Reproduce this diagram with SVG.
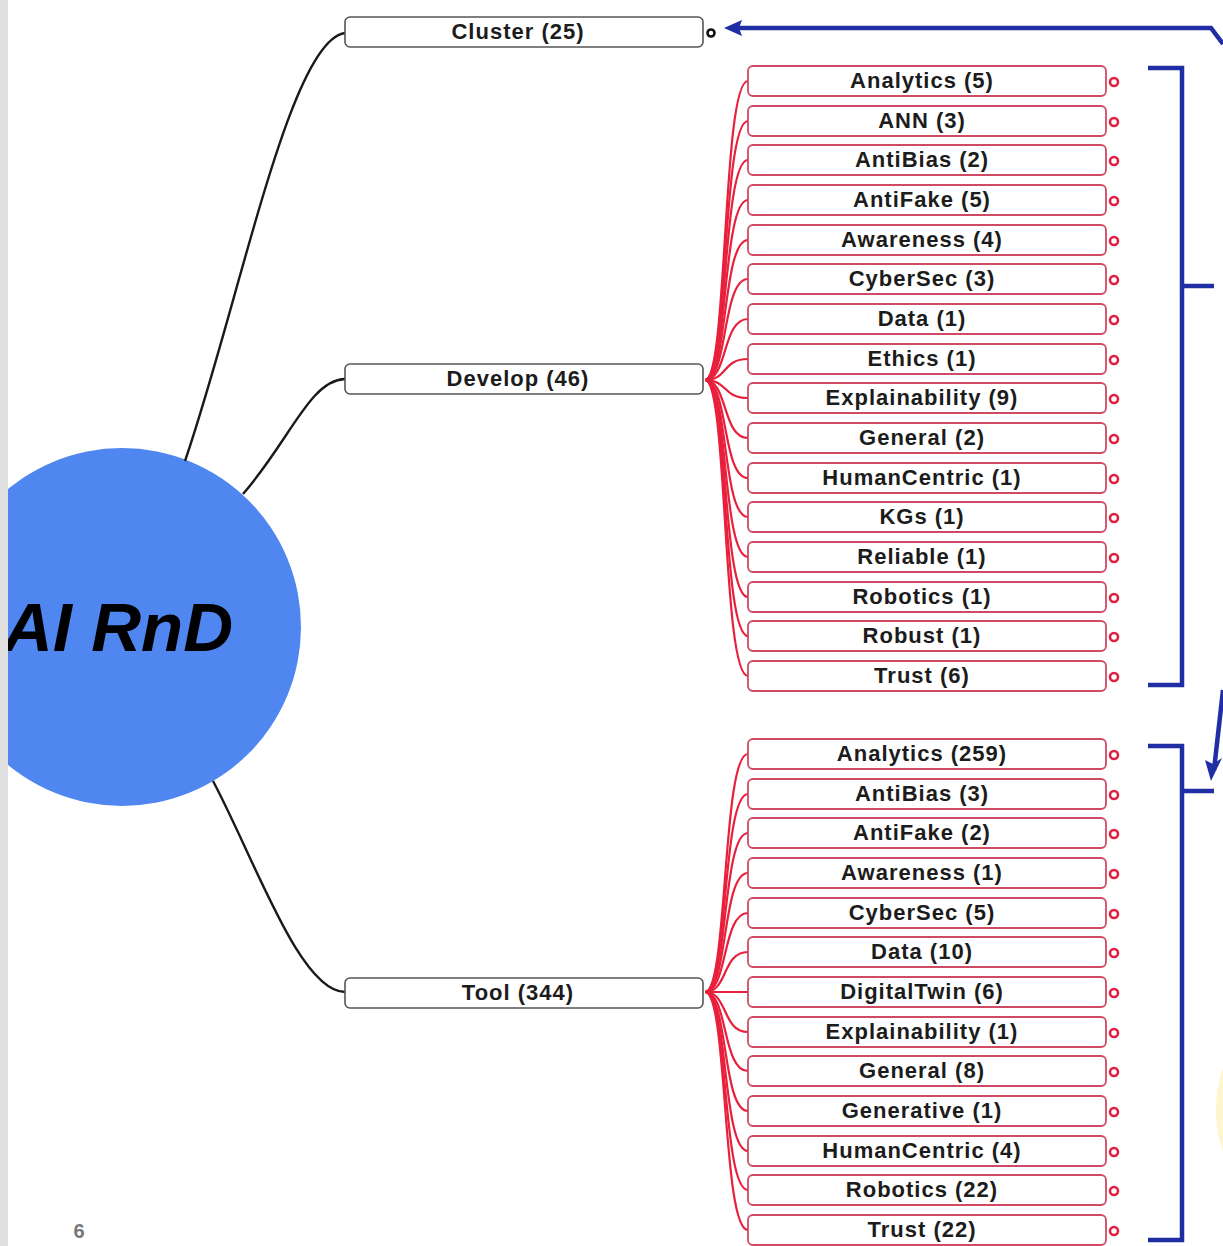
<svg xmlns="http://www.w3.org/2000/svg" width="1223" height="1246" viewBox="0 0 1223 1246">
  <defs>
    <style>
      .lbl { font-family: "Liberation Sans", Arial, sans-serif; font-weight: bold; font-size: 22px; fill: #1c1c1c; text-anchor: middle; letter-spacing: 1px; }
      .b1 { fill: #fff; stroke: #555; stroke-width: 1.6; }
      .b2 { fill: #fff; stroke: #d04a64; stroke-width: 1.8; }
      .dot2 { fill: #fff; stroke: #e02040; stroke-width: 2.6; }
      .dot1 { fill: #fff; stroke: #111; stroke-width: 2.6; }
      .blk { fill: none; stroke: #1a1a1a; stroke-width: 2.4; }
      .red { fill: none; stroke: #e8203c; stroke-width: 2.2; }
      .blue { fill: none; stroke: #1f2fa3; stroke-width: 4.5; stroke-linejoin: miter; }
    </style>
  </defs>
  <rect width="1223" height="1246" fill="#fff"/>
  <ellipse cx="1262" cy="1110" rx="46" ry="78" fill="#fdf6cf"/>

  <!-- root -->
  <g id="root">
    <circle cx="122" cy="627" r="179" fill="#4f86f0"/>
    <text x="3" y="651" font-family="Liberation Sans, Arial, sans-serif" font-weight="bold" font-style="italic" font-size="69" fill="#000">AI RnD</text>
  </g>
  <rect x="0" y="0" width="8" height="1246" fill="#e0e0e0"/>

  <!-- connectors -->
  <g id="connectors">
    <path class="blk" d="M185,461 C240,300 290,40 345,33"/>
    <path class="blk" d="M243,494 C290,440 310,380 345,379"/>
    <path class="blk" d="M213,781 C255,860 300,992 345,992"/>
    <g id="develop-links">
      <path class="red" d="M705,380 C728,380 722,81 748,81"/>
      <path class="red" d="M705,380 C728,380 722,121 748,121"/>
      <path class="red" d="M705,380 C728,380 722,160 748,160"/>
      <path class="red" d="M705,380 C728,380 722,200 748,200"/>
      <path class="red" d="M705,380 C728,380 722,240 748,240"/>
      <path class="red" d="M705,380 C728,380 722,279 748,279"/>
      <path class="red" d="M705,380 C728,380 722,319 748,319"/>
      <path class="red" d="M705,380 C728,380 722,359 748,359"/>
      <path class="red" d="M705,380 C728,380 722,398 748,398"/>
      <path class="red" d="M705,380 C728,380 722,438 748,438"/>
      <path class="red" d="M705,380 C728,380 722,478 748,478"/>
      <path class="red" d="M705,380 C728,380 722,517 748,517"/>
      <path class="red" d="M705,380 C728,380 722,557 748,557"/>
      <path class="red" d="M705,380 C728,380 722,597 748,597"/>
      <path class="red" d="M705,380 C728,380 722,636 748,636"/>
      <path class="red" d="M705,380 C728,380 722,676 748,676"/>
    </g>
    <g id="tool-links">
      <path class="red" d="M705,992 C728,992 722,754 748,754"/>
      <path class="red" d="M705,992 C728,992 722,794 748,794"/>
      <path class="red" d="M705,992 C728,992 722,833 748,833"/>
      <path class="red" d="M705,992 C728,992 722,873 748,873"/>
      <path class="red" d="M705,992 C728,992 722,913 748,913"/>
      <path class="red" d="M705,992 C728,992 722,952 748,952"/>
      <path class="red" d="M705,992 C728,992 722,992 748,992"/>
      <path class="red" d="M705,992 C728,992 722,1032 748,1032"/>
      <path class="red" d="M705,992 C728,992 722,1071 748,1071"/>
      <path class="red" d="M705,992 C728,992 722,1111 748,1111"/>
      <path class="red" d="M705,992 C728,992 722,1151 748,1151"/>
      <path class="red" d="M705,992 C728,992 722,1190 748,1190"/>
      <path class="red" d="M705,992 C728,992 722,1230 748,1230"/>
    </g>
    <!-- blue annotation arrows and brackets -->
    <g id="annotations">
      <path class="blue" d="M738,28 L1211,28 L1223,44"/>
      <polygon points="724,28 742,20 739,28 742,36" fill="#1f2fa3"/>
      <path class="blue" d="M1148,68 L1182,68 L1182,685 L1148,685"/>
      <path class="blue" d="M1182,286 L1214,286"/>
      <path class="blue" d="M1148,746 L1182,746 L1182,1240 L1148,1240"/>
      <path class="blue" d="M1182,791 L1214,791"/>
      <path class="blue" d="M1223,690 L1214,770"/>
      <polygon points="1211,781 1205,760 1213,764 1222,758" fill="#1f2fa3"/>
    </g>
  </g>

  <!-- level one -->
  <g id="cluster">
    <rect class="b1" x="345" y="17" width="358" height="30" rx="5"/>
    <text class="lbl" x="518" y="39">Cluster (25)</text>
    <circle class="dot1" cx="711" cy="33" r="3.5"/>
  </g>
  <g id="develop">
    <rect class="b1" x="345" y="364" width="358" height="30" rx="5"/>
    <text class="lbl" x="518" y="386">Develop (46)</text>
  </g>
  <g id="tool">
    <rect class="b1" x="345" y="978" width="358" height="30" rx="5"/>
    <text class="lbl" x="518" y="1000">Tool (344)</text>
  </g>

  <!-- develop children -->
  <g id="d-analytics"><rect class="b2" x="748" y="66" width="358" height="30" rx="5"/><text class="lbl" x="922" y="88">Analytics (5)</text><circle class="dot2" cx="1114" cy="82" r="4"/></g>
  <g id="d-ann"><rect class="b2" x="748" y="106" width="358" height="30" rx="5"/><text class="lbl" x="922" y="128">ANN (3)</text><circle class="dot2" cx="1114" cy="122" r="4"/></g>
  <g id="d-antibias"><rect class="b2" x="748" y="145" width="358" height="30" rx="5"/><text class="lbl" x="922" y="167">AntiBias (2)</text><circle class="dot2" cx="1114" cy="161" r="4"/></g>
  <g id="d-antifake"><rect class="b2" x="748" y="185" width="358" height="30" rx="5"/><text class="lbl" x="922" y="207">AntiFake (5)</text><circle class="dot2" cx="1114" cy="201" r="4"/></g>
  <g id="d-awareness"><rect class="b2" x="748" y="225" width="358" height="30" rx="5"/><text class="lbl" x="922" y="247">Awareness (4)</text><circle class="dot2" cx="1114" cy="241" r="4"/></g>
  <g id="d-cybersec"><rect class="b2" x="748" y="264" width="358" height="30" rx="5"/><text class="lbl" x="922" y="286">CyberSec (3)</text><circle class="dot2" cx="1114" cy="280" r="4"/></g>
  <g id="d-data"><rect class="b2" x="748" y="304" width="358" height="30" rx="5"/><text class="lbl" x="922" y="326">Data (1)</text><circle class="dot2" cx="1114" cy="320" r="4"/></g>
  <g id="d-ethics"><rect class="b2" x="748" y="344" width="358" height="30" rx="5"/><text class="lbl" x="922" y="366">Ethics (1)</text><circle class="dot2" cx="1114" cy="360" r="4"/></g>
  <g id="d-explainability"><rect class="b2" x="748" y="383" width="358" height="30" rx="5"/><text class="lbl" x="922" y="405">Explainability (9)</text><circle class="dot2" cx="1114" cy="399" r="4"/></g>
  <g id="d-general"><rect class="b2" x="748" y="423" width="358" height="30" rx="5"/><text class="lbl" x="922" y="445">General (2)</text><circle class="dot2" cx="1114" cy="439" r="4"/></g>
  <g id="d-humancentric"><rect class="b2" x="748" y="463" width="358" height="30" rx="5"/><text class="lbl" x="922" y="485">HumanCentric (1)</text><circle class="dot2" cx="1114" cy="479" r="4"/></g>
  <g id="d-kgs"><rect class="b2" x="748" y="502" width="358" height="30" rx="5"/><text class="lbl" x="922" y="524">KGs (1)</text><circle class="dot2" cx="1114" cy="518" r="4"/></g>
  <g id="d-reliable"><rect class="b2" x="748" y="542" width="358" height="30" rx="5"/><text class="lbl" x="922" y="564">Reliable (1)</text><circle class="dot2" cx="1114" cy="558" r="4"/></g>
  <g id="d-robotics"><rect class="b2" x="748" y="582" width="358" height="30" rx="5"/><text class="lbl" x="922" y="604">Robotics (1)</text><circle class="dot2" cx="1114" cy="598" r="4"/></g>
  <g id="d-robust"><rect class="b2" x="748" y="621" width="358" height="30" rx="5"/><text class="lbl" x="922" y="643">Robust (1)</text><circle class="dot2" cx="1114" cy="637" r="4"/></g>
  <g id="d-trust"><rect class="b2" x="748" y="661" width="358" height="30" rx="5"/><text class="lbl" x="922" y="683">Trust (6)</text><circle class="dot2" cx="1114" cy="677" r="4"/></g>

  <!-- tool children -->
  <g id="t-analytics"><rect class="b2" x="748" y="739" width="358" height="30" rx="5"/><text class="lbl" x="922" y="761">Analytics (259)</text><circle class="dot2" cx="1114" cy="755" r="4"/></g>
  <g id="t-antibias"><rect class="b2" x="748" y="779" width="358" height="30" rx="5"/><text class="lbl" x="922" y="801">AntiBias (3)</text><circle class="dot2" cx="1114" cy="795" r="4"/></g>
  <g id="t-antifake"><rect class="b2" x="748" y="818" width="358" height="30" rx="5"/><text class="lbl" x="922" y="840">AntiFake (2)</text><circle class="dot2" cx="1114" cy="834" r="4"/></g>
  <g id="t-awareness"><rect class="b2" x="748" y="858" width="358" height="30" rx="5"/><text class="lbl" x="922" y="880">Awareness (1)</text><circle class="dot2" cx="1114" cy="874" r="4"/></g>
  <g id="t-cybersec"><rect class="b2" x="748" y="898" width="358" height="30" rx="5"/><text class="lbl" x="922" y="920">CyberSec (5)</text><circle class="dot2" cx="1114" cy="914" r="4"/></g>
  <g id="t-data"><rect class="b2" x="748" y="937" width="358" height="30" rx="5"/><text class="lbl" x="922" y="959">Data (10)</text><circle class="dot2" cx="1114" cy="953" r="4"/></g>
  <g id="t-digitaltwin"><rect class="b2" x="748" y="977" width="358" height="30" rx="5"/><text class="lbl" x="922" y="999">DigitalTwin (6)</text><circle class="dot2" cx="1114" cy="993" r="4"/></g>
  <g id="t-explainability"><rect class="b2" x="748" y="1017" width="358" height="30" rx="5"/><text class="lbl" x="922" y="1039">Explainability (1)</text><circle class="dot2" cx="1114" cy="1033" r="4"/></g>
  <g id="t-general"><rect class="b2" x="748" y="1056" width="358" height="30" rx="5"/><text class="lbl" x="922" y="1078">General (8)</text><circle class="dot2" cx="1114" cy="1072" r="4"/></g>
  <g id="t-generative"><rect class="b2" x="748" y="1096" width="358" height="30" rx="5"/><text class="lbl" x="922" y="1118">Generative (1)</text><circle class="dot2" cx="1114" cy="1112" r="4"/></g>
  <g id="t-humancentric"><rect class="b2" x="748" y="1136" width="358" height="30" rx="5"/><text class="lbl" x="922" y="1158">HumanCentric (4)</text><circle class="dot2" cx="1114" cy="1152" r="4"/></g>
  <g id="t-robotics"><rect class="b2" x="748" y="1175" width="358" height="30" rx="5"/><text class="lbl" x="922" y="1197">Robotics (22)</text><circle class="dot2" cx="1114" cy="1191" r="4"/></g>
  <g id="t-trust"><rect class="b2" x="748" y="1215" width="358" height="30" rx="5"/><text class="lbl" x="922" y="1237">Trust (22)</text><circle class="dot2" cx="1114" cy="1231" r="4"/></g>

  <!-- page number -->
  <text x="79" y="1238" font-family="Liberation Sans, Arial, sans-serif" font-weight="bold" font-size="20" fill="#777" text-anchor="middle">6</text>
</svg>
